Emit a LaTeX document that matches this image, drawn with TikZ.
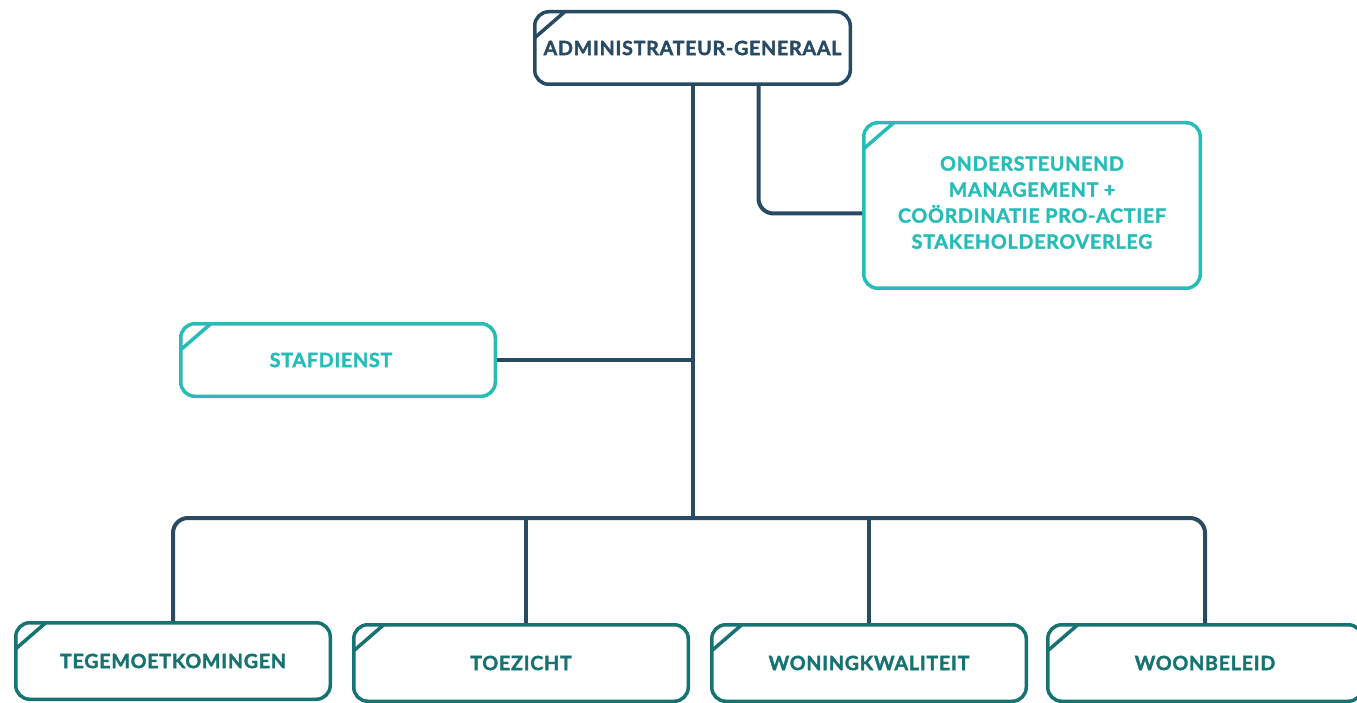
\documentclass[tikz,border=0pt]{standalone}
\usepackage{fontspec}
\setmainfont{Lato}[BoldFont={Lato Bold}, BoldFeatures={FakeBold=1.8, LetterSpace=4}]
\usepackage[dvipsnames]{xcolor}
\usetikzlibrary{positioning}
\usetikzlibrary{calc}

\definecolor{navy}{RGB}{40,74,98}
\definecolor{teallight}{RGB}{38,189,184}
\definecolor{tealdark}{RGB}{23,115,114}

\tikzset{
	orgbox/.style={draw=#1, text=#1, line width=3.5pt, rounded corners=14pt, fill=white,
		align=center, inner sep=0pt, font=\bfseries\fontsize{19.6}{26}\selectfont,
		path picture={\draw[#1, line width=3.5pt] ([xshift=30pt]path picture bounding box.north west) -- ([yshift=-26pt]path picture bounding box.north west);}},
	link/.style={draw=navy, line width=4pt, rounded corners=15pt}
}

\begin{document}
\begin{tikzpicture}[x=1pt,y=1pt,yscale=-1,xscale=1]
		\useasboundingbox (0,0) rectangle (1357,703);
		\clip (0,0) rectangle (1357,703);
		
		%Nodes: top
		\node[orgbox=navy, minimum width=315.5pt, minimum height=72.5pt] (admin) at (692.5,48) {ADMINISTRATEUR-GENERAAL};
		\node[orgbox=teallight, minimum width=336.5pt, minimum height=165.5pt, text depth=6pt] (onder) at (1032,205.5) {ONDERSTEUNEND\\MANAGEMENT +\\COÖRDINATIE PRO-ACTIEF\\STAKEHOLDEROVERLEG};
		\node[orgbox=teallight, minimum width=314.5pt, minimum height=72.5pt] (staf) at (338,360) {STAFDIENST\hspace*{14pt}};
		
		%Nodes: bottom row
		\node[orgbox=tealdark, minimum width=314.5pt, minimum height=76.5pt] (tege) at (173,661) {TEGEMOETKOMINGEN};
		\node[orgbox=tealdark, minimum width=334.5pt, minimum height=76.5pt] (toez) at (521,663) {TOEZICHT};
		\node[orgbox=tealdark, minimum width=314.5pt, minimum height=76.5pt] (woni) at (869,663) {WONINGKWALITEIT};
		\node[orgbox=tealdark, minimum width=314.5pt, minimum height=76.5pt] (woon) at (1205,663) {WOONBELEID};
		
		%Connectors
		\coordinate (bus) at (692.5,518);
		\coordinate (toezup) at ([xshift=5pt]toez.north);
		\draw[link] (admin.south) -- (bus);
		\draw[link] ([xshift=66pt]admin.south) |- ([yshift=8pt]onder.west);
		\draw[link] (staf.east) -- (staf.east -| admin.south);
		\draw[link] (tege.north) |- (bus) -| (woon.north);
		\draw[link] (toezup) -- (toezup |- bus);
		\draw[link] (woni.north) -- (woni.north |- bus);
		
	\end{tikzpicture}
\end{document}
